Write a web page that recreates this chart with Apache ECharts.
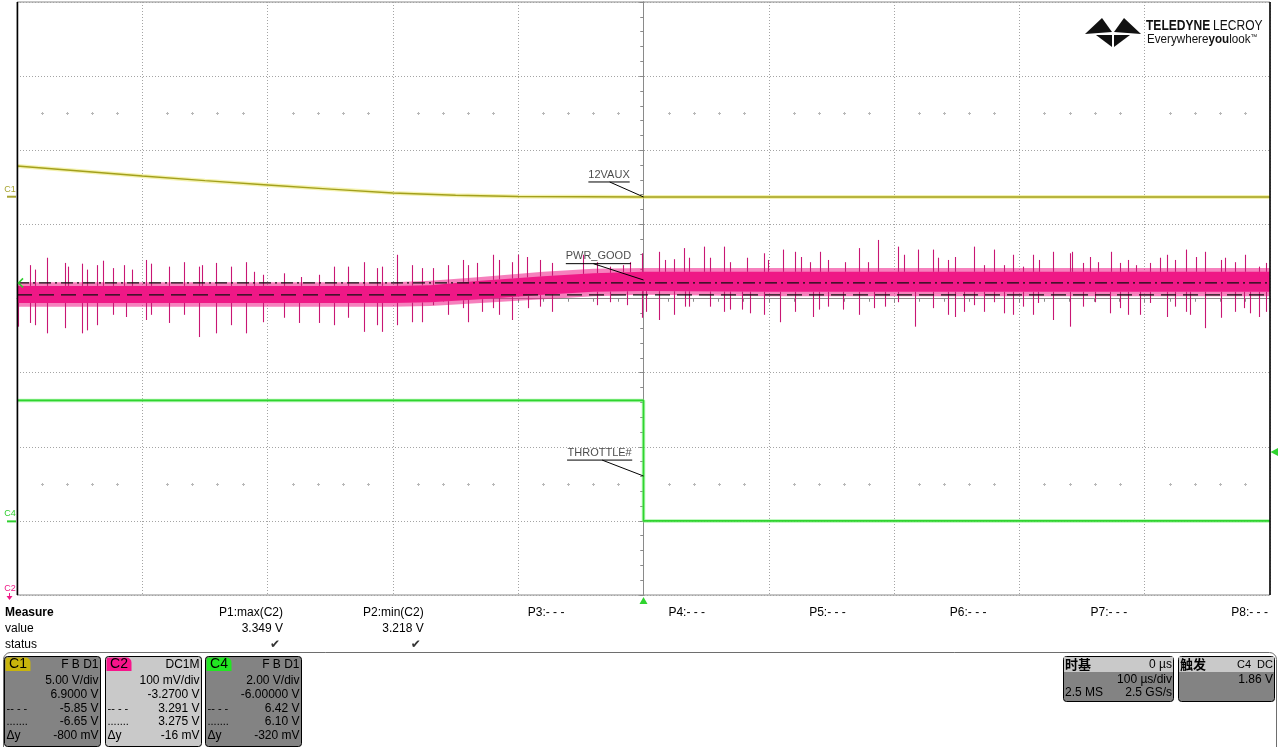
<!DOCTYPE html>
<html><head><meta charset="utf-8">
<script src="https://cdn.jsdelivr.net/npm/echarts@6/dist/echarts.min.js"></script>
<style>html,body{margin:0;padding:0;background:#fff;}#c{width:1280px;height:747px;}</style>
</head><body><div id="c"></div>
<script>
// ---------- DATA (time in µs, voltages in V) ----------
const timeMin = -500, timeMax = 500, timePerDiv = 100;

// C1 : 12VAUX (5 V/div, offset 6.9 V)
const c1Time  = [-500,-450,-400,-350,-300,-250,-200,-150,-100,0,100,200,300,400,500];
const c1Volts = [2.04,1.70,1.36,1.05,0.76,0.48,0.22,0.06,-0.02,-0.05,-0.05,-0.05,-0.05,-0.05,-0.05];

// C4 : THROTTLE# (2 V/div, offset -6 V)
const c4Time  = [-500, 0, 0, 500];
const c4Volts = [3.25, 3.25, 0.0, 0.0];

// C2 : PWR_GOOD (100 mV/div, offset -3.27 V) - noise envelope
const c2BandTime = [-500,-400,-300,-200,-170,-130,-80,-40,0,100,200,300,400,500];
const c2BandHigh = [3.287,3.287,3.287,3.287,3.288,3.294,3.300,3.304,3.306,3.306,3.306,3.306,3.306,3.306];
const c2BandLow  = [3.264,3.264,3.264,3.264,3.265,3.269,3.275,3.279,3.280,3.279,3.279,3.279,3.279,3.279];
const c2FuzzHigh = [3.292,3.292,3.292,3.292,3.294,3.299,3.306,3.310,3.311,3.311,3.311,3.311,3.311,3.311];
const c2FuzzLow  = [3.259,3.259,3.259,3.259,3.260,3.264,3.269,3.273,3.275,3.273,3.273,3.273,3.273,3.273];

// C2 spikes [time, peak V]
const c2UpSpikes = [
[-490,3.315],[-486,3.309],[-476,3.325],[-462,3.318],[-459,3.313],[-448,3.317],[-444,3.309],[-436,3.315],[-431,3.321],[-423,3.311],
[-415,3.315],[-408,3.309],[-397,3.322],[-393,3.317],[-379,3.313],[-367,3.319],[-355,3.313],[-352,3.315],[-341,3.318],[-329,3.313],
[-317,3.319],[-311,3.306],[-304,3.302],[-287,3.304],[-273,3.299],[-259,3.302],
[-247,3.313],[-236,3.313],[-223,3.319],[-213,3.311],[-209,3.313],[-197,3.329],[-185,3.315],[-177,3.311],[-168,3.311],[-156,3.315],
[-144,3.322],[-140,3.315],[-133,3.318],[-120,3.329],[-115,3.322],[-105,3.319],[-100,3.329],[-93,3.326],[-83,3.322],[-73,3.318],
[-48,3.329],[-37,3.319],[-27,3.313],[-16,3.315],[-11,3.319],[-1,3.331],
[12,3.333],[17,3.322],[24,3.323],[32,3.338],[36,3.325],[48,3.340],[53,3.325],[64,3.340],[69,3.319],[83,3.325],
[96,3.331],[99,3.322],[111,3.336],[121,3.333],[126,3.326],[133,3.319],[141,3.333],[147,3.322],[161,3.319],[172,3.338],
[179,3.319],[187,3.349],[203,3.340],[208,3.329],[219,3.336],[231,3.336],[235,3.325],[243,3.322],[249,3.326],
[264,3.340],[272,3.315],[280,3.336],[288,3.315],[295,3.329],[303,3.313],[311,3.329],[316,3.322],[327,3.333],[340,3.331],
[342,3.333],[351,3.318],[356,3.326],[363,3.319],[373,3.333],[380,3.318],[387,3.322],[393,3.315],[404,3.318],[412,3.325],
[418,3.329],[424,3.322],[433,3.336],[441,3.326],[448,3.333],[461,3.322],[464,3.325],[472,3.319],[480,3.329],[491,3.313],[497,3.318]
];
const c2DownSpikes = [
[-499,3.232],[-490,3.237],[-486,3.234],[-476,3.223],[-462,3.230],[-448,3.223],[-444,3.227],[-436,3.234],[-423,3.248],[-413,3.245],
[-397,3.241],[-393,3.248],[-379,3.237],[-367,3.248],[-355,3.218],[-341,3.223],[-329,3.234],[-317,3.223],[-304,3.238],[-287,3.244],
[-275,3.237],[-259,3.237],
[-247,3.234],[-236,3.244],[-223,3.225],[-213,3.234],[-209,3.225],[-197,3.234],[-185,3.238],[-177,3.238],[-168,3.261],[-156,3.248],
[-144,3.257],[-140,3.238],[-129,3.252],[-120,3.257],[-115,3.248],[-105,3.241],[-92,3.257],[-83,3.259],[-73,3.252],[-37,3.261],
[-27,3.265],[-13,3.261],[-1,3.244],[2,3.252],
[12,3.241],[24,3.248],[33,3.259],[36,3.259],[53,3.259],[64,3.252],[69,3.255],[79,3.255],[85,3.250],[96,3.248],
[109,3.238],[121,3.252],[135,3.245],[140,3.255],[147,3.259],[159,3.255],[172,3.248],[184,3.257],[193,3.259],[203,3.265],
[217,3.232],[231,3.257],[243,3.248],[249,3.245],
[256,3.252],[264,3.261],[272,3.252],[280,3.265],[288,3.250],[295,3.248],[303,3.259],[311,3.248],[315,3.264],[327,3.241],
[340,3.232],[351,3.259],[360,3.265],[372,3.250],[380,3.257],[387,3.248],[396,3.248],[404,3.264],[418,3.245],[424,3.259],
[433,3.252],[436,3.248],[448,3.230],[461,3.244],[472,3.252],[479,3.257],[484,3.250],[491,3.245],[497,3.252]
];

// C2 horizontal cursors (V)
const c2Cursors = [3.291, 3.275];
// Trigger level on C4 (V)
const triggerLevel = 1.86;

// trace labels
const labelText      = ['12VAUX', 'PWR_GOOD', 'THROTTLE#'];
const labelUnderline = [[-44, -11, 0.96], [-62, -10, 3.317], [-61, -9, 1.64]];
const labelLeaderT   = [-27, -40, -33];
const labelTip       = [[0, -0.05], [0, 3.295], [0, 1.21]];

// measurement table
const measureNames  = ['P1:max(C2)','P2:min(C2)','P3:- - -','P4:- - -','P5:- - -','P6:- - -','P7:- - -','P8:- - -'];
const measureValues = ['3.349 V','3.218 V','','','','','',''];
const measureStatus = ['✔','✔','','','','','',''];

// channel descriptor boxes
const chanNames = ['C1','C2','C4'];
const chanTags  = ['F B D1','DC1M','F B D1'];
const chanRows  = [
  ['5.00 V/div','6.9000 V','-5.85 V','-6.65 V','-800 mV'],
  ['100 mV/div','-3.2700 V','3.291 V','3.275 V','-16 mV'],
  ['2.00 V/div','-6.00000 V','6.42 V','6.10 V','-320 mV']
];
const timebaseText = ['时基','0 µs','100 µs/div','2.5 MS','2.5 GS/s'];
const triggerText  = ['触发','C4  DC','1.86 V'];

// ---------- STYLE ----------
const FONT = '"Liberation Sans", Arial, sans-serif';
const colC1 = '#a3a01c', colC2 = '#ef1886', colC2Spike = '#c81674', colC4 = '#2fd42f';
const gridGray = '#a4a4a4', axisGray = '#8a8a8a';

function interp(ts, vs, t) {
  if (t <= ts[0]) return vs[0];
  for (let i = 1; i < ts.length; i++) {
    if (t <= ts[i]) { const f = (t - ts[i-1]) / (ts[i] - ts[i-1]); return vs[i-1] + f * (vs[i] - vs[i-1]); }
  }
  return vs[vs.length - 1];
}
const zip = (a, b) => a.map((v, i) => [v, b[i]]);

const chart = echarts.init(document.getElementById('c'), null, {renderer: 'canvas'});

function divAxis(inside, split) {
  return {
    type: 'value', min: -4, max: 4, interval: 1,
    axisLine: {show: true, onZero: true, onZeroAxisIndex: 0, lineStyle: {color: axisGray, width: 1}},
    axisTick: {show: true, inside: inside, length: 4, lineStyle: {color: axisGray}},
    minorTick: {show: true, splitNumber: 5, length: 3, lineStyle: {color: axisGray}},
    axisLabel: {show: false},
    splitLine: {show: split, lineStyle: {color: gridGray, type: [1, 2], width: 1}}
  };
}
function timeAxis(inside, split) {
  return {
    type: 'value', min: timeMin, max: timeMax, interval: timePerDiv,
    axisLine: {show: true, onZero: true, onZeroAxisIndex: 0, lineStyle: {color: axisGray, width: 1}},
    axisTick: {show: true, inside: inside, length: 4, lineStyle: {color: axisGray}},
    minorTick: {show: true, splitNumber: 5, length: 3, lineStyle: {color: axisGray}},
    axisLabel: {show: false},
    splitLine: {show: split, lineStyle: {color: gridGray, type: [1, 2], width: 1}}
  };
}

function polygonSeries(hi, lo, color, opacity, z) {
  return {
    type: 'custom', xAxisIndex: 0, yAxisIndex: 3, z: z, silent: true,
    data: [[0, hi[0]]],
    renderItem: function (params, api) {
      const pts = [];
      c2BandTime.forEach((t, i) => pts.push(api.coord([t, hi[i]])));
      for (let i = c2BandTime.length - 1; i >= 0; i--) pts.push(api.coord([c2BandTime[i], lo[i]]));
      return {type: 'polygon', shape: {points: pts}, style: {fill: color, opacity: opacity}};
    }
  };
}
function spikeSeries(data, up) {
  return {
    type: 'custom', xAxisIndex: 0, yAxisIndex: 3, z: 4, silent: true,
    encode: {x: 0, y: 1}, data: data,
    renderItem: function (params, api) {
      const t = api.value(0), v = api.value(1);
      const base = up ? interp(c2BandTime, c2BandHigh, t) : interp(c2BandTime, c2BandLow, t);
      const p1 = api.coord([t, base]), p2 = api.coord([t, v]);
      const x = Math.round(p1[0]) + 0.5;
      return {type: 'line', shape: {x1: x, y1: p1[1], x2: x, y2: p2[1]}, style: {stroke: colC2Spike, lineWidth: 1.1}};
    }
  };
}

const series = [
  polygonSeries(c2FuzzHigh, c2FuzzLow, colC2, 0.55, 3),
  polygonSeries(c2BandHigh, c2BandLow, colC2, 1, 3),
  spikeSeries(c2UpSpikes, true),
  spikeSeries(c2DownSpikes, false),
  {type: 'line', xAxisIndex: 0, yAxisIndex: 2, z: 5, data: zip(c1Time, c1Volts), showSymbol: false, silent: true,
   lineStyle: {color: 'rgba(235,232,110,0.55)', width: 4}},
  {type: 'line', xAxisIndex: 0, yAxisIndex: 2, z: 6, data: zip(c1Time, c1Volts), showSymbol: false, silent: true,
   lineStyle: {color: colC1, width: 1.4}},
  {type: 'line', xAxisIndex: 0, yAxisIndex: 4, z: 5, data: zip(c4Time, c4Volts), showSymbol: false, silent: true,
   lineStyle: {color: 'rgba(120,240,120,0.6)', width: 3.5}},
  {type: 'line', xAxisIndex: 0, yAxisIndex: 4, z: 6, data: zip(c4Time, c4Volts), showSymbol: false, silent: true,
   lineStyle: {color: colC4, width: 1.6}},
  {type: 'line', xAxisIndex: 0, yAxisIndex: 3, z: 7, data: [[timeMin, c2Cursors[0]], [timeMax, c2Cursors[0]]], showSymbol: false, silent: true,
   lineStyle: {color: '#111', width: 1.2, type: [12, 4, 2, 4]}},
  {type: 'line', xAxisIndex: 0, yAxisIndex: 3, z: 7, data: [[timeMin, c2Cursors[1]], [timeMax, c2Cursors[1]]], showSymbol: false, silent: true,
   lineStyle: {color: '#111', width: 1.2, type: [15, 7]}}
];
const labelAxes = [2, 3, 4];
labelText.forEach((name, i) => {
  const u = labelUnderline[i];
  series.push({type: 'line', xAxisIndex: 0, yAxisIndex: labelAxes[i], z: 8, silent: true, showSymbol: false,
    data: [[u[0], u[2]], [u[1], u[2]]], lineStyle: {color: '#000', width: 1}});
  series.push({type: 'line', xAxisIndex: 0, yAxisIndex: labelAxes[i], z: 8, silent: true, showSymbol: false,
    data: [[labelLeaderT[i], u[2]], labelTip[i]], lineStyle: {color: '#000', width: 1}});
  series.push({type: 'scatter', xAxisIndex: 0, yAxisIndex: labelAxes[i], z: 9, silent: true, symbolSize: 2,
    itemStyle: {color: 'rgba(0,0,0,0)'}, data: [[(u[0] + u[1]) / 2, u[2]]],
    label: {show: true, position: 'top', distance: 1, formatter: name, color: '#1a1a1a', fontSize: 11, fontFamily: FONT}});
});

chart.setOption({
  animation: false,
  backgroundColor: '#ffffff',
  grid: {left: 17, right: 10, top: 2, bottom: 152, show: true, borderColor: axisGray, borderWidth: 1, backgroundColor: 'transparent'},
  xAxis: [timeAxis(false, true), timeAxis(true, false)],
  yAxis: [
    divAxis(false, true), divAxis(true, false),
    {type: 'value', min: -26.9, max: 13.1, show: false},
    {type: 'value', min: 2.87, max: 3.67, show: false},
    {type: 'value', min: -2, max: 14, show: false}
  ],
  series: series
});

// ---------- decorations / readout panel ----------
const G = [];
function txt(x, y, s, o, extra) {
  G.push(Object.assign({type: 'text', x: x, y: y, silent: true, z: 100,
    style: Object.assign({text: s, fill: '#000', font: '12px ' + FONT, textAlign: 'left', textVerticalAlign: 'middle'}, o || {})}, extra || {}));
}
function rect(x, y, w, h, o, r) {
  G.push({type: 'rect', silent: true, z: o.z || 90, shape: {x: x, y: y, width: w, height: h, r: r || 0},
    style: {fill: o.fill || 'rgba(0,0,0,0)', stroke: o.stroke || null, lineWidth: o.lw || 1}});
}
function line(x1, y1, x2, y2, color, w, z) {
  G.push({type: 'line', silent: true, z: z || 95, shape: {x1: x1, y1: y1, x2: x2, y2: y2}, style: {stroke: color, lineWidth: w || 1}});
}
function poly(pts, color, z) {
  G.push({type: 'polygon', silent: true, z: z || 95, shape: {points: pts}, style: {fill: color}});
}

const X = t => chart.convertToPixel({xAxisIndex: 0}, t);
const Yc = (axis, v) => chart.convertToPixel({yAxisIndex: axis}, v);
const gl = 17.5, gr = 1270, gt = 2, gb = 595;

// graticule marks at +/-2.5 divisions, on the minor tick positions
[2.5, -2.5].forEach(d => {
  const y = Math.round(Yc(0, d)) + 0.5;
  for (let t = timeMin + timePerDiv / 5; t < timeMax; t += timePerDiv / 5) {
    if (Math.abs(t % timePerDiv) < 1e-6) continue;
    const x = Math.round(X(t)) + 0.5;
    line(x - 1.5, y, x + 1.5, y, '#b8b8b8', 1, 10);
    line(x, y - 1.5, x, y + 1.5, '#b8b8b8', 1, 10);
  }
});

// black side frame lines
line(gl, gt, gl, gb, '#000', 1.5, 50);
line(gr, gt, gr, gb, '#000', 1.5, 50);

// channel ground markers
const y1 = Yc(2, 0), y4 = Yc(4, 0);
txt(10, y1 - 7, 'C1', {fill: '#a8a430', font: '9px ' + FONT, textAlign: 'center'});
line(7, y1 + 0.5, 16, y1 + 0.5, '#a8a430', 2);
txt(10, y4 - 7, 'C4', {fill: '#2fcf2f', font: '9px ' + FONT, textAlign: 'center'});
line(7, y4 + 0.5, 16, y4 + 0.5, '#2fcf2f', 2);
txt(10, 589, 'C2', {fill: colC2, font: '9px ' + FONT, textAlign: 'center'});
line(9.5, 593, 9.5, 599, colC2, 1);
poly([[6.5, 596], [12.5, 596], [9.5, 600]], colC2);

// cursor marker chevron at left
const yc = Yc(3, c2Cursors[0]);
G.push({type: 'polyline', silent: true, z: 95, shape: {points: [[23, yc - 4.5], [18.5, yc], [23, yc + 4.5]]}, style: {stroke: '#2fcf2f', lineWidth: 1.6, fill: null}});

// trigger markers
const xt = X(0);
poly([[xt, 597], [xt - 4, 604], [xt + 4, 604]], '#2fd42f');
const ytr = Yc(4, triggerLevel);
poly([[1270.5, ytr], [1278, ytr - 4], [1278, ytr + 4]], '#2fd42f');

// logo
poly([[1085, 34], [1102, 18], [1112, 32]], '#111');
poly([[1141, 34], [1124, 18], [1114, 32]], '#111');
poly([[1096, 35], [1112, 35], [1112, 47]], '#111');
poly([[1114, 35], [1130, 35], [1114, 47]], '#111');
G.push({type: 'text', x: 1146, y: 26, scaleX: 0.86, silent: true, z: 100, style: {
  text: '{b|TELEDYNE} {n|LECROY}', textVerticalAlign: 'middle',
  rich: {b: {font: 'bold 14px "Liberation Sans", Arial', fill: '#111'},
         n: {font: '14px "Liberation Sans", Arial', fill: '#111'}}}});
G.push({type: 'text', x: 1147, y: 39.5, scaleX: 0.97, silent: true, z: 100, style: {
  text: '{n|Everywhere}{b|you}{n|look}{t|™}', textVerticalAlign: 'middle',
  rich: {b: {font: 'bold 12px ' + FONT, fill: '#111'}, n: {font: '12px ' + FONT, fill: '#111'}, t: {font: '7px ' + FONT, fill: '#111', verticalAlign: 'top'}}}});

// measure table
txt(5, 613, 'Measure', {font: 'bold 12px ' + FONT});
txt(5, 629, 'value');
txt(5, 645, 'status');
measureNames.forEach((n, i) => {
  const xr = 283 + i * 140.7;
  txt(xr, 613, n, {textAlign: 'right'});
  if (measureValues[i]) txt(xr, 629, measureValues[i], {textAlign: 'right'});
  if (measureStatus[i]) txt(xr - 3, 645, measureStatus[i], {textAlign: 'right', fill: '#333', font: '12px "DejaVu Sans"'});
});

// separator
rect(3.5, 652.5, 1273, 140, {stroke: '#6e6e6e', z: 80}, 7);

// channel boxes
const boxX = [4, 105, 205], boxFill = ['#838383', '#c9c9c9', '#838383'], badgeCol = ['#c8b40c', '#f7148b', '#22e622'];
const rowY = [681, 695, 708.5, 722, 736];
chanNames.forEach((n, i) => {
  const x = boxX[i] + 0.5;
  rect(x, 656.5, 96, 90, {fill: boxFill[i], stroke: '#000', z: 90}, 3);
  rect(x + 1, 657.5, 25, 13.5, {fill: badgeCol[i], z: 91}, [2, 5, 0, 0]);
  txt(x + 13.5, 664.5, n, {textAlign: 'center', font: '14px ' + FONT});
  txt(x + 94, 664.5, chanTags[i], {textAlign: 'right'});
  chanRows[i].forEach((r, k) => txt(x + 94, rowY[k], r, {textAlign: 'right'}));
  txt(x + 2, rowY[2], '-- - -', {font: '11px ' + FONT});
  txt(x + 2, rowY[3], '.......', {font: '11px ' + FONT});
  txt(x + 2, rowY[4], 'Δy');
});

// timebase + trigger boxes
rect(1063.5, 656.5, 110, 45, {fill: '#838383', stroke: '#000'}, 3);
rect(1064, 657, 109, 15, {fill: '#c9c9c9', z: 91});
txt(1065, 664.5, timebaseText[0], {font: 'bold 13px "Noto Sans CJK SC"'});
txt(1172, 664.5, timebaseText[1], {textAlign: 'right'});
txt(1172, 680, timebaseText[2], {textAlign: 'right'});
txt(1065, 693, timebaseText[3]);
txt(1172, 693, timebaseText[4], {textAlign: 'right'});

rect(1178.5, 656.5, 96, 45, {fill: '#838383', stroke: '#000'}, 3);
rect(1179, 657, 95, 15, {fill: '#c9c9c9', z: 91});
txt(1180, 664.5, triggerText[0], {font: 'bold 13px "Noto Sans CJK SC"'});
txt(1273, 664.5, triggerText[1], {textAlign: 'right', font: '11px ' + FONT});
txt(1273, 680, triggerText[2], {textAlign: 'right'});

chart.setOption({graphic: {elements: G}});
</script>
</body></html>
